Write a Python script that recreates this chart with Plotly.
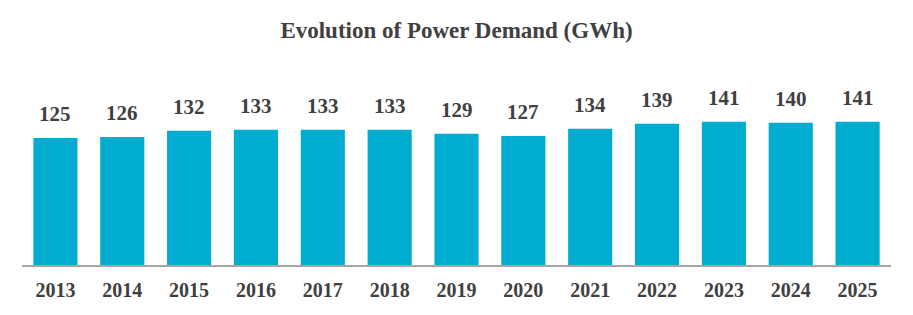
import plotly.graph_objects as go

years = ["2013", "2014", "2015", "2016", "2017", "2018", "2019", "2020", "2021", "2022", "2023", "2024", "2025"]
demand = [125, 126, 132, 133, 133, 133, 129, 127, 134, 139, 141, 140, 141]

SERIF = "Times New Roman"

fig = go.Figure(go.Bar(
    x=years, y=demand,
    marker=dict(color="#00ACCF", line=dict(width=0)),
    cliponaxis=False, width=0.66,
))
for i, v in enumerate(demand):
    fig.add_annotation(x=i, y=v, text=f"<b>{v}</b>", showarrow=False, yanchor="bottom", yshift=10,
                       font=dict(family=SERIF, size=21, color="#404040"))
fig.update_layout(
    width=913, height=315,
    margin=dict(l=22, r=22, t=82, b=50),
    paper_bgcolor="white", plot_bgcolor="white",
    title=dict(text="<b>Evolution of Power Demand (GWh)</b>", x=0.5, xanchor="center", y=0.905, yanchor="middle",
               font=dict(family=SERIF, size=23, color="#404040")),
    showlegend=False,
    xaxis=dict(type="category", range=[-0.5, len(years) - 0.5], showline=True, linecolor="#A6A6A6", linewidth=2,
               ticks="", showgrid=False,
               tickfont=dict(family=SERIF, size=20, color="#404040"), ticklabelstandoff=6,
               tickprefix="<b>", ticksuffix="</b>"),
    yaxis=dict(range=[0, 180], visible=False, showgrid=False),
)
fig.write_html("out.html")
